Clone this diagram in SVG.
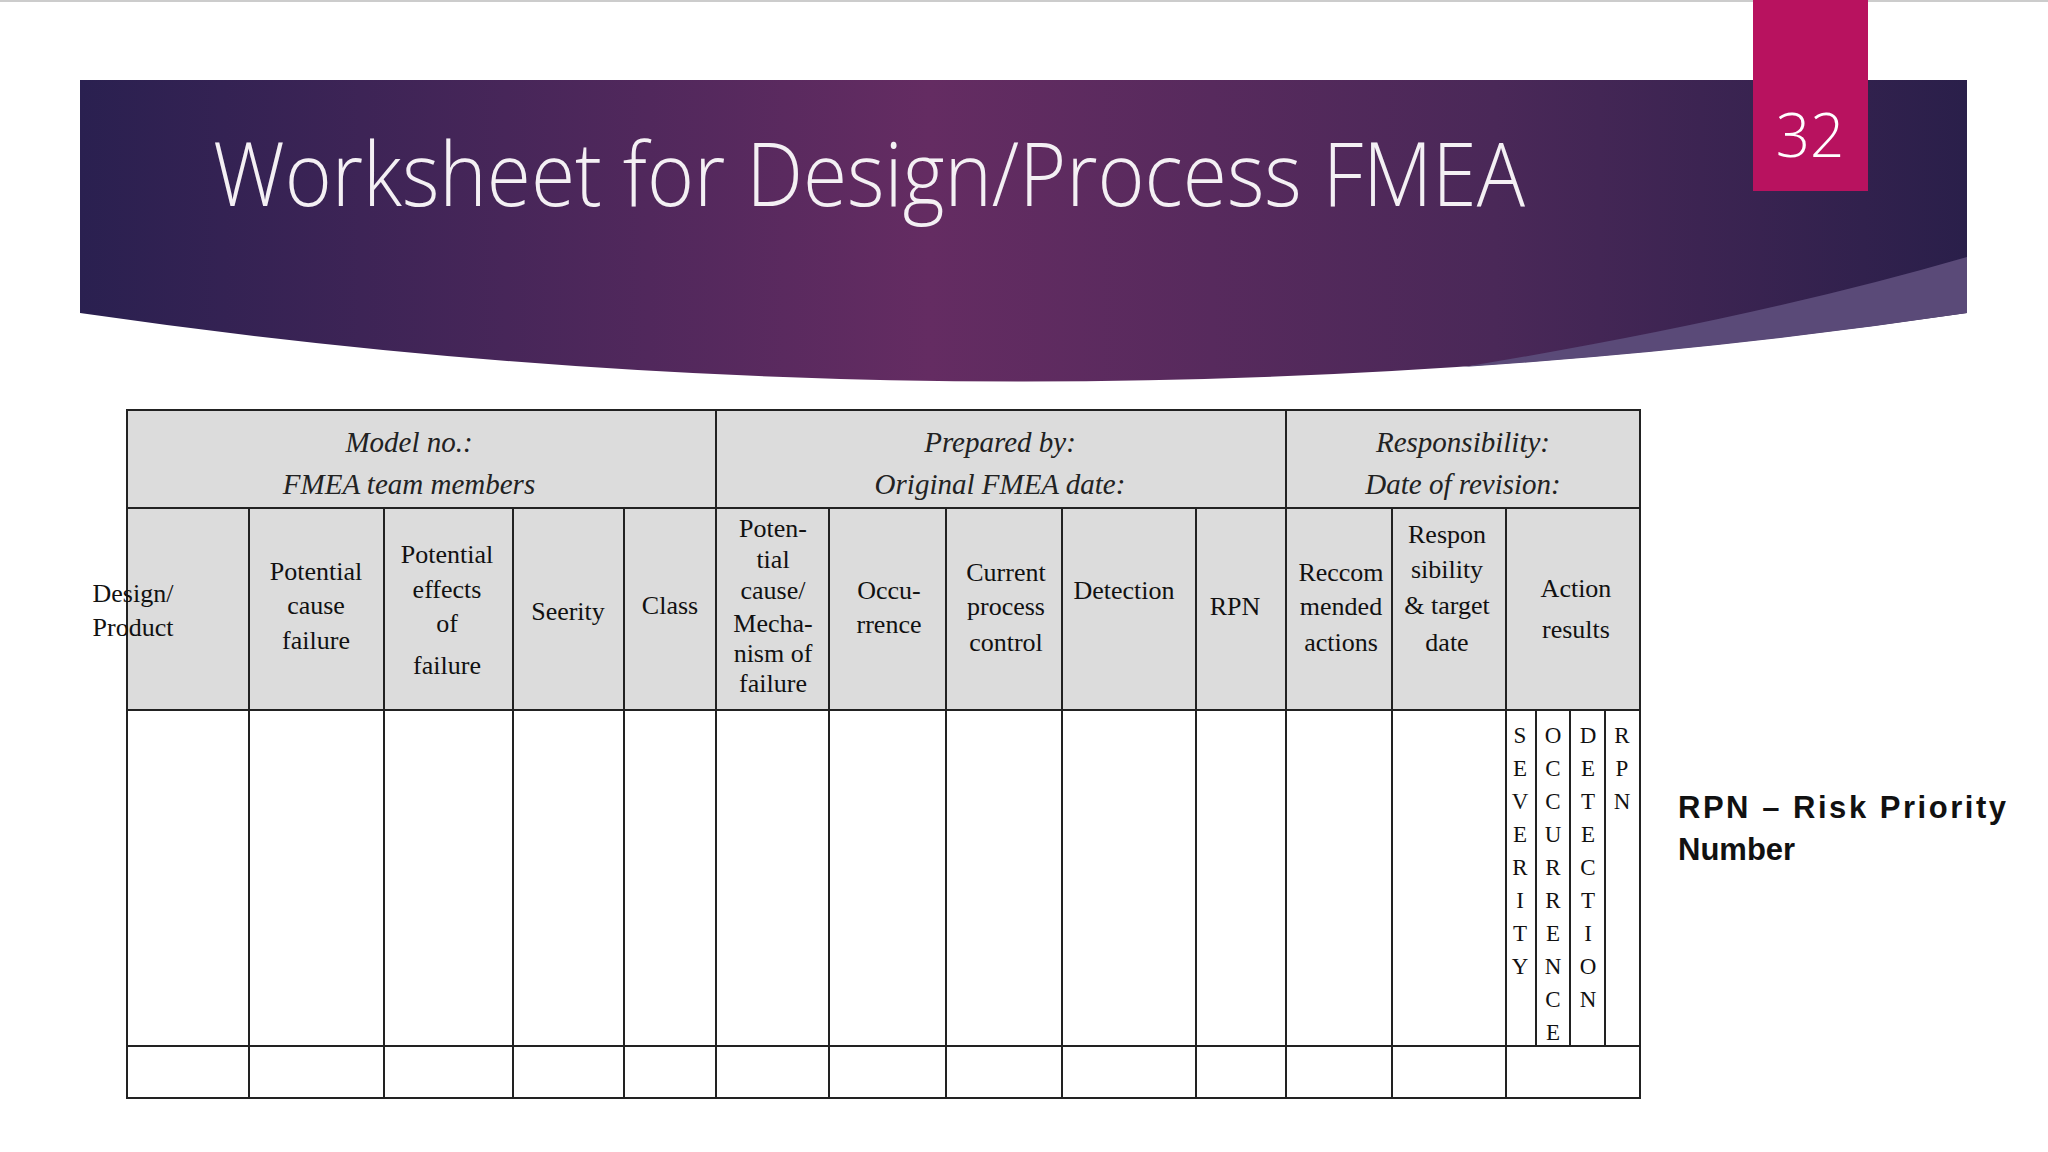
<svg xmlns="http://www.w3.org/2000/svg" width="2048" height="1152" viewBox="0 0 2048 1152">
<defs>
<radialGradient id="bg" cx="0.47" cy="0.95" r="0.6" gradientTransform="translate(0.25,0) scale(0.5,1)">
<stop offset="0" stop-color="#6e2e66"/><stop offset="1" stop-color="#2a1f4a"/>
</radialGradient>
<linearGradient id="bgh" x1="0" x2="1" y1="0" y2="0">
<stop offset="0" stop-color="#2a2050"/><stop offset="0.45" stop-color="#642c62"/><stop offset="0.75" stop-color="#4a2858"/><stop offset="1" stop-color="#2a1f4a"/>
</linearGradient>
<style>
.t{font-family:"Liberation Serif",serif;font-size:26px;fill:#111;text-anchor:middle}
.h{font-family:"Liberation Serif",serif;font-size:29px;font-style:italic;fill:#222;text-anchor:middle}
.v{font-family:"Liberation Serif",serif;font-size:23px;fill:#111;text-anchor:middle}
.ln{stroke:#222;stroke-width:2;fill:none}
</style>
</defs>
<rect width="2048" height="1152" fill="#fff"/>
<line x1="0" y1="1" x2="2048" y2="1" stroke="#ccc" stroke-width="2"/>
<g id="banner">
<path d="M80 80 H1967 V313 Q1024 450 80 313 Z" fill="url(#bgh)"/>
<path d="M1967 257 V313 Q1720 350 1463 367 Q1750 320 1967 257 Z" fill="#5a4a78"/>
<text x="213" y="206" font-family="'Open Sans',sans-serif" font-weight="300" font-size="88" fill="#f4f0f4" textLength="1312" lengthAdjust="spacingAndGlyphs">Worksheet for Design/Process FMEA</text>
</g>
<g id="page-number">
<rect x="1753" y="0" width="115" height="191" fill="#b8125f"/>
<text x="1810" y="157" font-family="'Open Sans',sans-serif" font-weight="300" font-size="60" fill="#fff" text-anchor="middle">32</text>
</g>
<g id="table">
<rect x="127" y="410" width="1513" height="300" fill="#dcdcdc"/>
<rect x="127" y="410" width="1513" height="688" class="ln"/>
<line class="ln" x1="127" y1="508" x2="1640" y2="508" stroke-width="3"/>
<line class="ln" x1="127" y1="710" x2="1640" y2="710" stroke-width="3"/>
<line class="ln" x1="127" y1="1046" x2="1640" y2="1046" stroke-width="3"/>
<line class="ln" x1="716" y1="410" x2="716" y2="1098"/>
<line class="ln" x1="1286" y1="410" x2="1286" y2="1098"/>
<g class="ln">
<line x1="249" y1="508" x2="249" y2="1098"/><line x1="384" y1="508" x2="384" y2="1098"/>
<line x1="513" y1="508" x2="513" y2="1098"/><line x1="624" y1="508" x2="624" y2="1098"/>
<line x1="829" y1="508" x2="829" y2="1098"/><line x1="946" y1="508" x2="946" y2="1098"/>
<line x1="1062" y1="508" x2="1062" y2="1098"/><line x1="1196" y1="508" x2="1196" y2="1098"/>
<line x1="1392" y1="508" x2="1392" y2="1098"/><line x1="1506" y1="508" x2="1506" y2="1098"/>
<line x1="1536" y1="710" x2="1536" y2="1046"/><line x1="1570" y1="710" x2="1570" y2="1046"/>
<line x1="1605" y1="710" x2="1605" y2="1046"/>
</g>
<text class="h" x="409" y="452">Model no.:</text>
<text class="h" x="409" y="494">FMEA team members</text>
<text class="h" x="1000" y="452">Prepared by:</text>
<text class="h" x="1000" y="494">Original FMEA date:</text>
<text class="h" x="1463" y="452">Responsibility:</text>
<text class="h" x="1463" y="494">Date of revision:</text>
<text class="t" x="133" y="602" text-anchor="start">Design/</text>
<text class="t" x="133" y="636" text-anchor="start">Product</text>
<text class="t" x="316" y="580">Potential</text><text class="t" x="316" y="614">cause</text><text class="t" x="316" y="649">failure</text>
<text class="t" x="447" y="563">Potential</text><text class="t" x="447" y="598">effects</text><text class="t" x="447" y="632">of</text><text class="t" x="447" y="674">failure</text>
<text class="t" x="568" y="620">Seerity</text>
<text class="t" x="670" y="614">Class</text>
<text class="t" x="773" y="537">Poten-</text><text class="t" x="773" y="568">tial</text><text class="t" x="773" y="599">cause/</text><text class="t" x="773" y="632">Mecha-</text><text class="t" x="773" y="662">nism of</text><text class="t" x="773" y="692">failure</text>
<text class="t" x="889" y="599">Occu-</text><text class="t" x="889" y="633">rrence</text>
<text class="t" x="1006" y="581">Current</text><text class="t" x="1006" y="615">process</text><text class="t" x="1006" y="651">control</text>
<text class="t" x="1124" y="599">Detection</text>
<text class="t" x="1235" y="615">RPN</text>
<text class="t" x="1341" y="581">Reccom</text><text class="t" x="1341" y="615">mended</text><text class="t" x="1341" y="651">actions</text>
<text class="t" x="1447" y="543">Respon</text><text class="t" x="1447" y="578">sibility</text><text class="t" x="1447" y="614">&amp; target</text><text class="t" x="1447" y="651">date</text>
<text class="t" x="1576" y="597">Action</text><text class="t" x="1576" y="638">results</text>
<g class="v">
<text x="1520" y="743">S</text><text x="1520" y="776">E</text><text x="1520" y="809">V</text><text x="1520" y="842">E</text><text x="1520" y="875">R</text><text x="1520" y="908">I</text><text x="1520" y="941">T</text><text x="1520" y="974">Y</text>
<text x="1553" y="743">O</text><text x="1553" y="776">C</text><text x="1553" y="809">C</text><text x="1553" y="842">U</text><text x="1553" y="875">R</text><text x="1553" y="908">R</text><text x="1553" y="941">E</text><text x="1553" y="974">N</text><text x="1553" y="1007">C</text><text x="1553" y="1040">E</text>
<text x="1588" y="743">D</text><text x="1588" y="776">E</text><text x="1588" y="809">T</text><text x="1588" y="842">E</text><text x="1588" y="875">C</text><text x="1588" y="908">T</text><text x="1588" y="941">I</text><text x="1588" y="974">O</text><text x="1588" y="1007">N</text>
<text x="1622" y="743">R</text><text x="1622" y="776">P</text><text x="1622" y="809">N</text>
</g>
</g>
<g id="rpn-note" font-family="'Liberation Sans',sans-serif" font-weight="bold" font-size="31" fill="#111">
<text x="1678" y="818" textLength="328" lengthAdjust="spacing">RPN – Risk Priority</text>
<text x="1678" y="860">Number</text>
</g>
</svg>
